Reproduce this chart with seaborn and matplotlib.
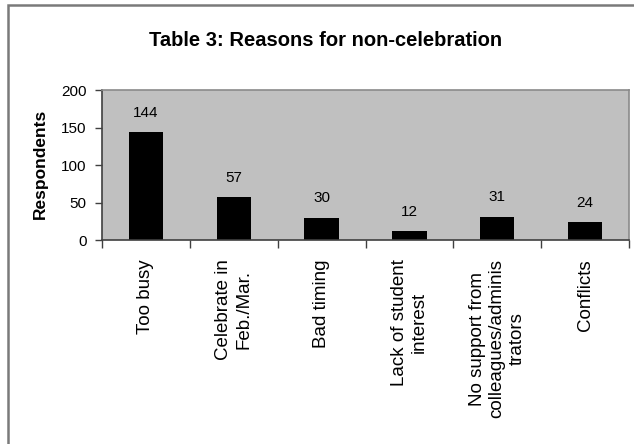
import matplotlib
matplotlib.use("Agg")
import matplotlib.pyplot as plt
import matplotlib.patches as mpatches
from matplotlib.ticker import FixedLocator, NullFormatter
import seaborn as sns
import pandas as pd

# Survey: why schools did not hold the celebration
reasons = [
    "Too busy",
    "Celebrate in\nFeb./Mar.",
    "Bad timing",
    "Lack of student\ninterest",
    "No support from\ncolleagues/adminis\ntrators",
    "Conflicts",
]
respondents = [144, 57, 30, 12, 31, 24]
y_ticks = [0, 50, 100, 150, 200]

title = "Table 3: Reasons for non-celebration"
y_label = "Respondents"

plt.rcParams["font.family"] = ["Liberation Sans", "DejaVu Sans"]

df = pd.DataFrame({"reason": reasons, "count": respondents})

fig = plt.figure(figsize=(6.34, 4.44), dpi=100)
fig.patch.set_facecolor("white")

# outer chart frame
frame = mpatches.Rectangle((8 / 634, -0.05), 1.2, 1 - 5 / 444 + 0.05,
                           transform=fig.transFigure, fill=False,
                           edgecolor="#7a7a7a", linewidth=1.8)
fig.add_artist(frame)

ax = fig.add_axes([102 / 634, 1 - 240 / 444, (629 - 102) / 634, 150 / 444])
ax.set_facecolor("#c0c0c0")

sns.barplot(data=df, x="reason", y="count", color="black", width=0.39,
            saturation=1, ax=ax)

ax.set_ylim(0, 200)
ax.set_xlim(-0.5, len(reasons) - 0.5)
ax.set_yticks(y_ticks)
ax.set_xlabel("")
ax.set_ylabel("")

# category separators as ticks between bars
ax.xaxis.set_minor_locator(FixedLocator([i - 0.5 for i in range(len(reasons) + 1)]))
ax.xaxis.set_minor_formatter(NullFormatter())
ax.tick_params(axis="x", which="minor", length=6, width=1, color="#404040",
               direction="out")
ax.tick_params(axis="x", which="major", length=0, pad=14, labelsize=13.5,
               labelrotation=90)
for lab in ax.get_xticklabels():
    lab.set_verticalalignment("top")
    lab.set_horizontalalignment("center")
    lab.set_multialignment("center")
ax.tick_params(axis="y", length=5, width=1, color="#404040", pad=6,
               labelsize=11)

for side in ["left", "bottom"]:
    ax.spines[side].set_color("#404040")
    ax.spines[side].set_linewidth(1.2)
for side in ["top", "right"]:
    ax.spines[side].set_color("#8a8a8a")
    ax.spines[side].set_linewidth(1.2)

ax.bar_label(ax.containers[0], labels=[str(v) for v in respondents],
             padding=9, fontsize=11)

fig.text(326 / 634, 1 - 40 / 444, title, ha="center", va="center",
         fontsize=14.5, fontweight="bold")
fig.text(40 / 634, 1 - 164 / 444, y_label, ha="center", va="center",
         rotation=90, fontsize=12.5, fontweight="bold")

fig.savefig("out.png", dpi=100)
